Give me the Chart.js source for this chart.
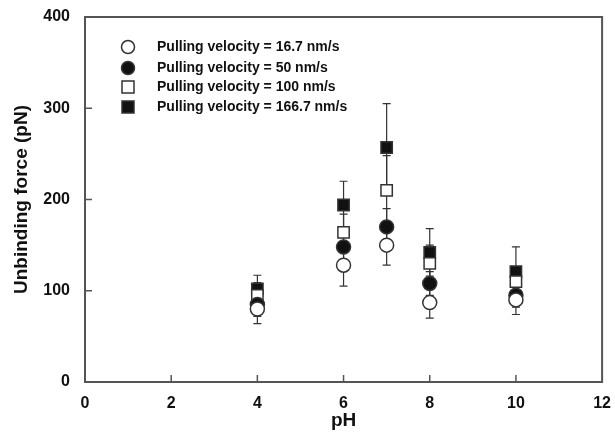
<!DOCTYPE html>
<html>
<head>
<meta charset="utf-8">
<script src="https://cdn.jsdelivr.net/npm/chart.js@4.4.1/dist/chart.umd.min.js"></script>
<style>
  html, body { margin: 0; padding: 0; background: #fff; }
  #wrap { width: 615px; height: 432px; position: relative; }
</style>
</head>
<body>
<div id="wrap"><canvas id="chart"></canvas></div>
<script>
// --- DATA ---
const phValues = [4, 6, 7, 8, 10];
const xTicks = [0, 2, 4, 6, 8, 10, 12];
const yTicks = [0, 100, 200, 300, 400];

const force16 = [80, 128, 150, 87, 90];
const err16 = [16, 23, 22, 17, 16];
const force50 = [85, 148, 170, 108, 95];
const err50 = [13, 16, 20, 13, 13];
const force100 = [95, 164, 210, 130, 110];
const err100 = [14, 20, 38, 20, 16];
const force166 = [102, 194, 257, 142, 121];
const err166 = [15, 26, 48, 26, 27];

const legendLabels = [
    'Pulling velocity = 16.7 nm/s',
    'Pulling velocity = 50 nm/s',
    'Pulling velocity = 100 nm/s',
    'Pulling velocity = 166.7 nm/s'
];

const FONT = '"Liberation Sans", Arial, Helvetica, sans-serif';
const INK = '#111';
const FRAME = '#555';

function toPoints(vals, errs) {
    return phValues.map((x, i) => ({ x, y: vals[i], err: errs[i] }));
}

const series = [
    { label: legendLabels[0], data: toPoints(force16, err16), pointStyle: 'circle', fill: '#fff' },
    { label: legendLabels[1], data: toPoints(force50, err50), pointStyle: 'circle', fill: INK },
    { label: legendLabels[2], data: toPoints(force100, err100), pointStyle: 'rect', fill: '#fff' },
    { label: legendLabels[3], data: toPoints(force166, err166), pointStyle: 'rect', fill: INK }
];

// --- PLUGINS ---
const errorBars = {
    id: 'errorBars',
    beforeDatasetsDraw(chart) {
        const { ctx, scales: { x, y } } = chart;
        ctx.save();
        ctx.strokeStyle = '#333';
        ctx.lineWidth = 1.2;
        chart.data.datasets.forEach(ds => {
            ds.data.forEach(p => {
                const px = x.getPixelForValue(p.x);
                const top = y.getPixelForValue(p.y + p.err);
                const bot = y.getPixelForValue(p.y - p.err);
                ctx.beginPath();
                ctx.moveTo(px, top); ctx.lineTo(px, bot);
                ctx.moveTo(px - 4, top); ctx.lineTo(px + 4, top);
                ctx.moveTo(px - 4, bot); ctx.lineTo(px + 4, bot);
                ctx.stroke();
            });
        });
        ctx.restore();
    }
};

const frame = {
    id: 'frame',
    afterDraw(chart) {
        const { ctx, chartArea: a, scales: { x, y } } = chart;
        ctx.save();
        ctx.strokeStyle = FRAME;
        ctx.lineWidth = 2;
        ctx.strokeRect(a.left, a.top, a.right - a.left, a.bottom - a.top);
        // inward ticks
        ctx.lineWidth = 1.5;
        ctx.beginPath();
        xTicks.slice(1, -1).forEach(v => {
            const px = x.getPixelForValue(v);
            ctx.moveTo(px, a.bottom); ctx.lineTo(px, a.bottom - 7);
        });
        yTicks.slice(1).forEach(v => {
            const py = y.getPixelForValue(v);
            ctx.moveTo(a.left, py); ctx.lineTo(a.left + 7, py);
        });
        ctx.stroke();
        ctx.restore();
    }
};

const customLegend = {
    id: 'customLegend',
    afterDraw(chart) {
        const { ctx } = chart;
        const rows = [47, 68, 87, 107];
        ctx.save();
        ctx.font = 'bold 14px ' + FONT;
        ctx.textBaseline = 'middle';
        chart.data.datasets.forEach((ds, i) => {
            const mx = 128, my = rows[i];
            ctx.lineWidth = 1.5;
            ctx.strokeStyle = '#333';
            ctx.fillStyle = ds.pointBackgroundColor;
            ctx.beginPath();
            if (ds.pointStyle === 'circle') ctx.arc(mx, my, 6.5, 0, Math.PI * 2);
            else ctx.rect(mx - 6, my - 6, 12, 12);
            ctx.fill();
            ctx.stroke();
            ctx.fillStyle = INK;
            ctx.fillText(ds.label, 157, my);
        });
        ctx.restore();
    }
};

// --- CHART ---
const chart = new Chart(document.getElementById('chart'), {
    type: 'scatter',
    data: {
        datasets: series.map(s => ({
            label: s.label,
            data: s.data,
            pointStyle: s.pointStyle,
            pointRadius: s.pointStyle === 'rect' ? 8 : 7,
            pointBackgroundColor: s.fill,
            pointBorderColor: '#333',
            pointBorderWidth: 1.5,
            showLine: false
        }))
    },
    options: {
        responsive: true,
        maintainAspectRatio: false,
        animation: false,
        layout: { padding: { top: 17, right: 9, left: 0, bottom: 0 } },
        plugins: { legend: { display: false }, tooltip: { enabled: false } },
        scales: {
            x: {
                type: 'linear', min: 0, max: 12,
                afterBuildTicks: s => { s.ticks = xTicks.map(v => ({ value: v })); },
                afterFit: s => { s.height = 50; },
                grid: { display: false },
                border: { display: false },
                ticks: { color: INK, padding: 4, font: { family: FONT, size: 16, weight: 'bold' } },
                title: { display: true, text: 'pH', color: INK, padding: { top: 0, bottom: 0 }, font: { family: FONT, size: 19, weight: 'bold' } }
            },
            y: {
                min: 0, max: 400,
                afterBuildTicks: s => { s.ticks = yTicks.map(v => ({ value: v })); },
                afterFit: s => { s.width = 85; },
                grid: { display: false },
                border: { display: false },
                ticks: { color: INK, padding: 7, font: { family: FONT, size: 16, weight: 'bold' } },
                title: { display: true, text: 'Unbinding force (pN)', color: INK, padding: { top: 10, bottom: 0 }, font: { family: FONT, size: 19, weight: 'bold' } }
            }
        }
    },
    plugins: [errorBars, frame, customLegend]
});
</script>
</body>
</html>
